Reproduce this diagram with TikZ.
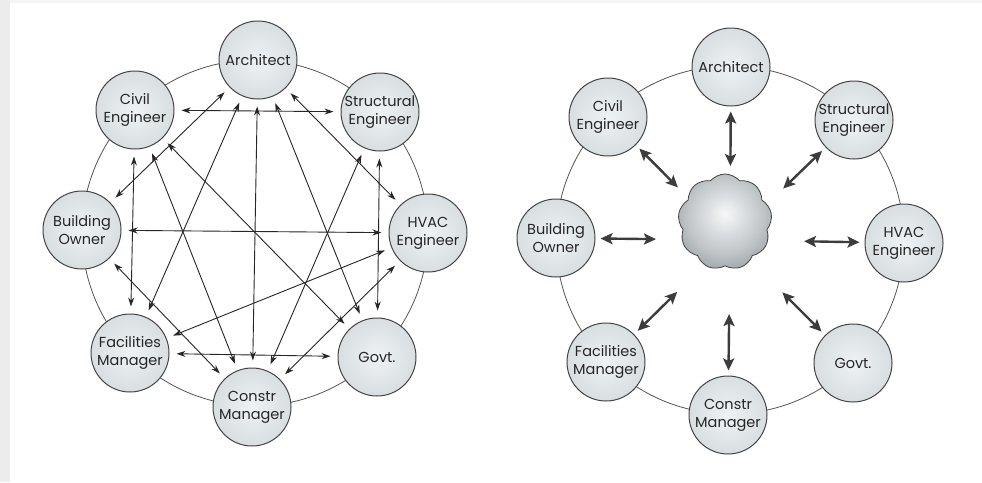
\documentclass[tikz,border=0pt]{standalone}
\usepackage{fontspec}
\setmainfont{Poppins}
\usetikzlibrary{arrows.meta,shapes.symbols}
\definecolor{nodeIn}{HTML}{EEF2F4}
\definecolor{nodeMid}{HTML}{D4DADD}
\definecolor{nodeOut}{HTML}{A9B1B5}
\definecolor{cloudIn}{HTML}{F6F7F8}
\definecolor{cloudMid}{HTML}{C0C5C8}
\definecolor{cloudOut}{HTML}{686E72}
\definecolor{edgegray}{HTML}{444444}
\definecolor{ink}{HTML}{262626}
\definecolor{ringgray}{HTML}{555555}
\definecolor{stripgray}{HTML}{ECECEC}
\definecolor{topgray}{HTML}{F5F5F5}
\pgfdeclareradialshading{nodeball}{\pgfpoint{0bp}{0bp}}{color(0bp)=(nodeIn); color(30bp)=(nodeMid); color(50bp)=(nodeOut); color(100bp)=(nodeOut)}
\pgfdeclareradialshading{cloudball}{\pgfpoint{0bp}{4bp}}{color(0bp)=(cloudIn); color(20bp)=(cloudMid); color(46bp)=(cloudOut); color(100bp)=(cloudOut)}
\begin{document}
\begin{tikzpicture}[x=1pt,y=-1pt,
  party/.style={circle, draw=edgegray, line width=1pt, shade, shading=nodeball,
    minimum size=78pt, inner sep=0pt, align=center, text=ink,
    font=\fontsize{14.5}{18}\selectfont},
  ringline/.style={draw=ringgray, line width=0.8pt},
  thinarrow/.style={draw=ink, line width=0.9pt,
    {Stealth[length=9pt,width=6pt]}-{Stealth[length=9pt,width=6pt]},
    shorten <=7pt, shorten >=7pt},
  thickarrow/.style={draw=ink!90, line width=2.4pt,
    {Stealth[length=12pt,width=11pt,inset=2.5pt]}-{Stealth[length=12pt,width=11pt,inset=2.5pt]},
    shorten <=5pt, shorten >=74pt},
  blob/.style={cloud, cloud puffs=9, cloud puff arc=100, cloud ignores aspect,
    draw=edgegray, line width=0.8pt, shade, shading=cloudball,
    minimum width=94pt, minimum height=96pt, inner sep=0pt}
]
\useasboundingbox (0,0) rectangle (982,482);
\fill[white] (0,0) rectangle (982,482);
\fill[stripgray] (0,0) rectangle (10,482);
\fill[topgray] (10,0) rectangle (982,3);

% ---------- left diagram ----------
\draw[ringline] (255,233) circle[radius=173pt];
\node[party] (la) at (258,60) {Architect};
\node[party] (lc) at (135,110) {Civil\\Engineer};
\node[party] (ls) at (380,112) {Structural\\Engineer};
\node[party] (lb) at (82,230) {Building\\Owner};
\node[party] (lh) at (428,233) {HVAC\\Engineer};
\node[party] (lf) at (130,353) {Facilities\\Manager};
\node[party] (lg) at (377,357) {Govt.};
\node[party] (lm) at (252,407) {Constr\\Manager};

\draw[thinarrow] (lc) -- (ls);
\draw[thinarrow] (lb) -- (lh);
\draw[thinarrow] (lf) -- (lg);
\draw[thinarrow] (la) -- (lm);
\draw[thinarrow] (lc) -- (lf);
\draw[thinarrow] (ls) -- (lg);
\draw[thinarrow] (la) -- (lb);
\draw[thinarrow] (la) -- (lf);
\draw[thinarrow] (la) -- (lg);
\draw[thinarrow] (la) -- (lh);
\draw[thinarrow] (lc) -- (lm);
\draw[thinarrow] (lc) -- (lg);
\draw[thinarrow] (ls) -- (lm);
\draw[thinarrow] (lb) -- (lm);
\draw[thinarrow] (lh) -- (lf);
\draw[thinarrow] (lh) -- (lm);

% ---------- right diagram ----------
\draw[ringline] (730,240) circle[radius=174pt];
\coordinate (rcen) at (730,240);
\node[party] (ra) at (731,67) {Architect};
\node[party] (rc) at (608,117) {Civil\\Engineer};
\node[party] (rs) at (854,120) {Structural\\Engineer};
\node[party] (rb) at (556,238) {Building\\Owner};
\node[party] (rh) at (904,243) {HVAC\\Engineer};
\node[party] (rf) at (606,362) {Facilities\\Manager};
\node[party] (rg) at (853,363) {Govt.};
\node[party] (rm) at (728,415) {Constr\\Manager};
\node[blob] (hub) at (725,222) {};

\foreach \n in {ra,rc,rs,rb,rh,rf,rg,rm}
  \draw[thickarrow] (\n) -- (rcen);
\end{tikzpicture}
\end{document}
